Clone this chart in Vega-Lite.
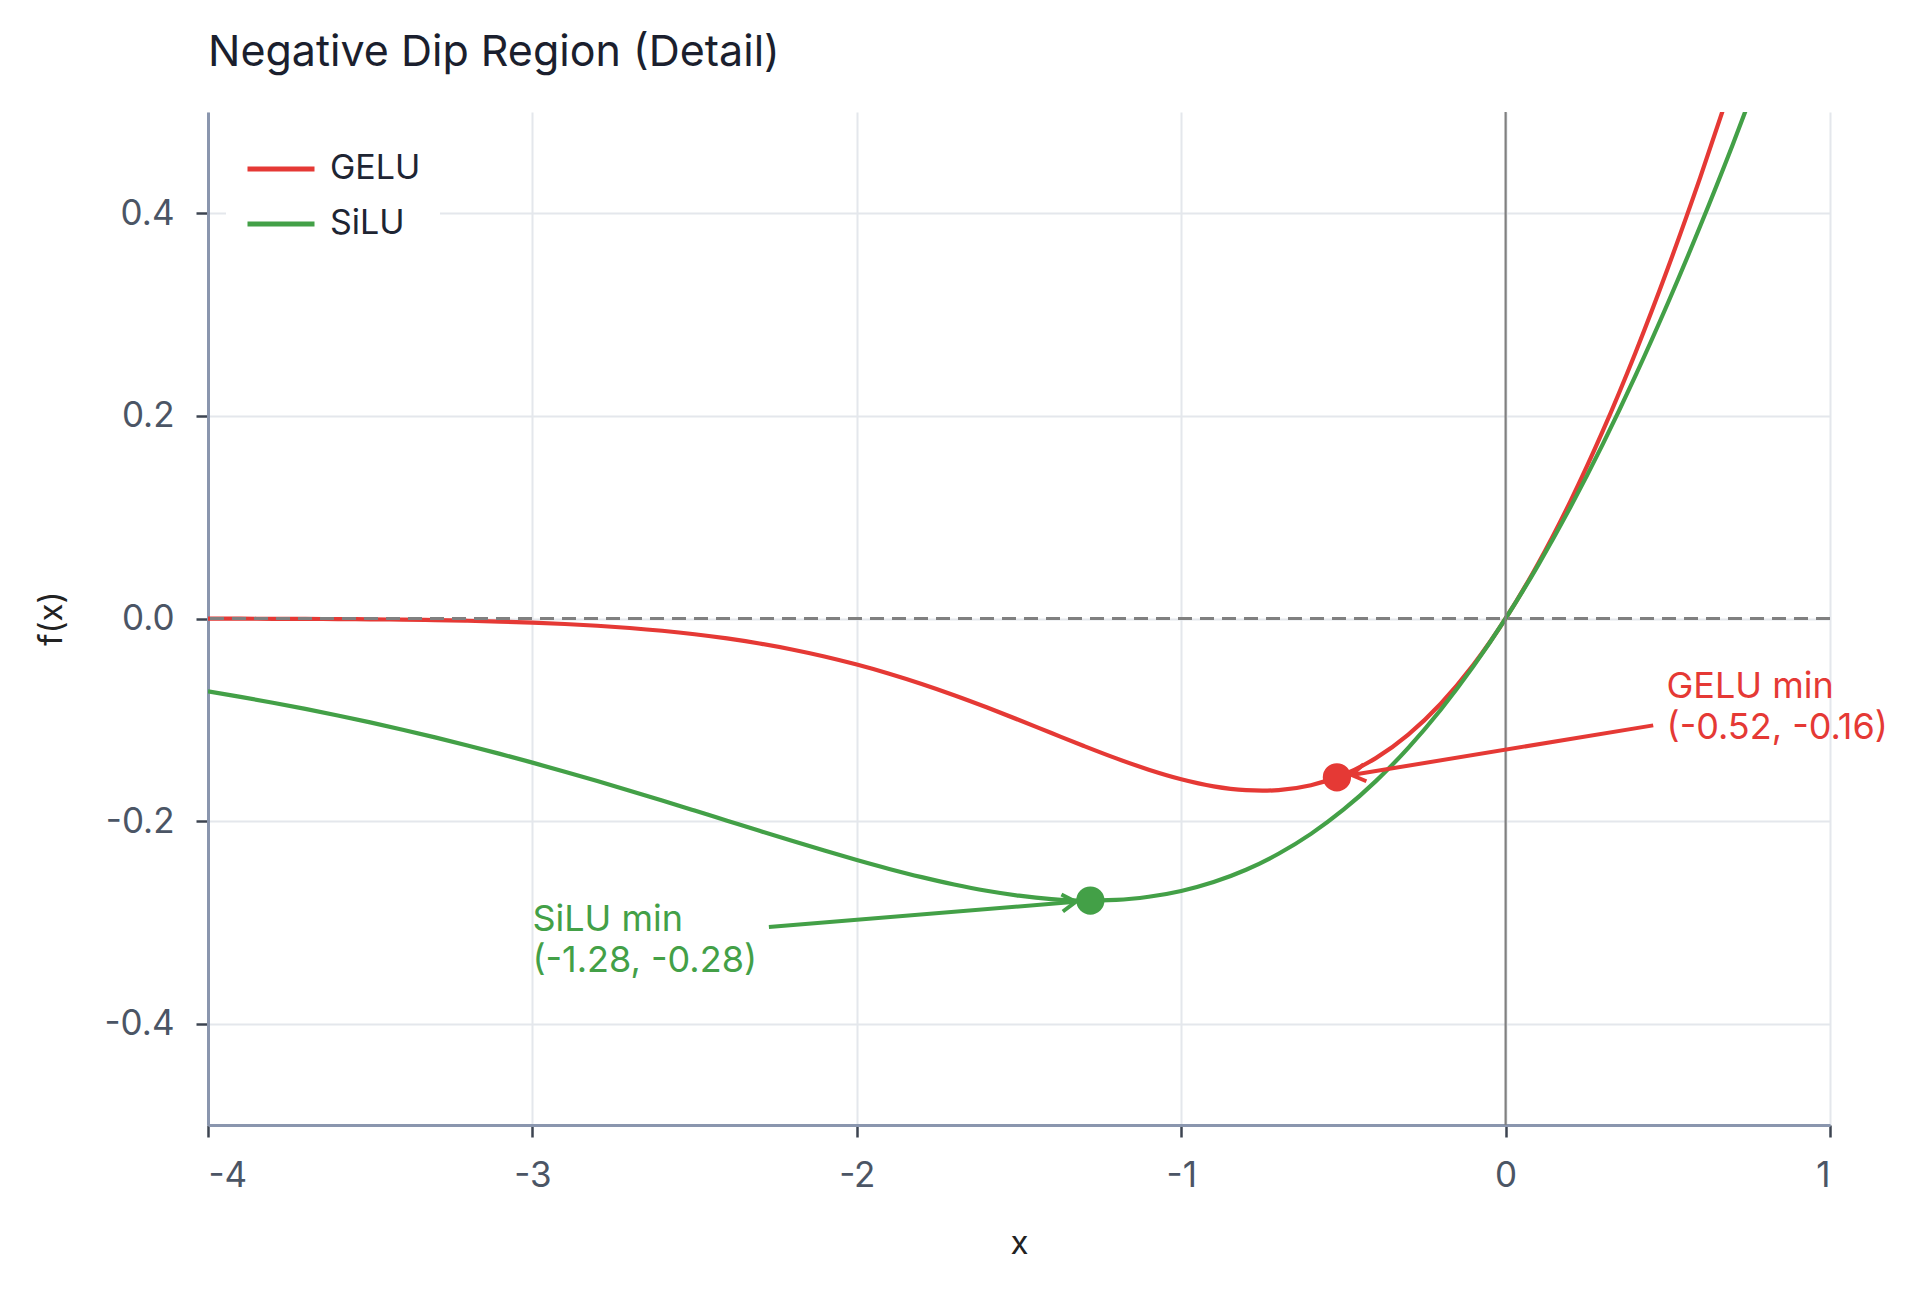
{
  "$schema": "https://vega.github.io/schema/vega-lite/v6.json",
  "width": 1622,
  "height": 1013,
  "autosize": {"type": "none"},
  "padding": {"left": 208, "top": 112, "right": 90, "bottom": 168},
  "background": "white",
  "title": {"text": "Negative Dip Region (Detail)", "anchor": "start", "frame": "group", "fontSize": 43, "font": "Inter", "fontWeight": "normal", "color": "#1b1f2e", "baseline": "alphabetic", "offset": 2},
  "datasets": {
    "curves": [
      {"x": -4.0, "y": -0.000127, "func": "GELU"}, {"x": -3.9, "y": -0.000188, "func": "GELU"}, {"x": -3.8, "y": -0.000275, "func": "GELU"}, {"x": -3.7, "y": -0.000399, "func": "GELU"}, {"x": -3.6, "y": -0.000573, "func": "GELU"}, {"x": -3.5, "y": -0.000814, "func": "GELU"}, {"x": -3.4, "y": -0.001145, "func": "GELU"}, {"x": -3.3, "y": -0.001595, "func": "GELU"}, {"x": -3.2, "y": -0.002199, "func": "GELU"}, {"x": -3.1, "y": -0.003, "func": "GELU"}, {"x": -3.0, "y": -0.00405, "func": "GELU"}, {"x": -2.9, "y": -0.005411, "func": "GELU"}, {"x": -2.8, "y": -0.007154, "func": "GELU"}, {"x": -2.7, "y": -0.009361, "func": "GELU"}, {"x": -2.6, "y": -0.012119, "func": "GELU"}, {"x": -2.5, "y": -0.015524, "func": "GELU"}, {"x": -2.4, "y": -0.019674, "func": "GELU"}, {"x": -2.3, "y": -0.024665, "func": "GELU"}, {"x": -2.2, "y": -0.030587, "func": "GELU"}, {"x": -2.1, "y": -0.037515, "func": "GELU"}, {"x": -2.0, "y": -0.0455, "func": "GELU"}, {"x": -1.9, "y": -0.054562, "func": "GELU"}, {"x": -1.8, "y": -0.064675, "func": "GELU"}, {"x": -1.7, "y": -0.075761, "func": "GELU"}, {"x": -1.6, "y": -0.087679, "func": "GELU"}, {"x": -1.5, "y": -0.100211, "func": "GELU"}, {"x": -1.4, "y": -0.113059, "func": "GELU"}, {"x": -1.3, "y": -0.125841, "func": "GELU"}, {"x": -1.2, "y": -0.138084, "func": "GELU"}, {"x": -1.1, "y": -0.149233, "func": "GELU"}, {"x": -1.0, "y": -0.158655, "func": "GELU"}, {"x": -0.9, "y": -0.165654, "func": "GELU"}, {"x": -0.8, "y": -0.169484, "func": "GELU"}, {"x": -0.75, "y": -0.169971, "func": "GELU"}, {"x": -0.7, "y": -0.169375, "func": "GELU"}, {"x": -0.6, "y": -0.164552, "func": "GELU"}, {"x": -0.5, "y": -0.154269, "func": "GELU"}, {"x": -0.4, "y": -0.137831, "func": "GELU"}, {"x": -0.3, "y": -0.114627, "func": "GELU"}, {"x": -0.2, "y": -0.084148, "func": "GELU"}, {"x": -0.1, "y": -0.046017, "func": "GELU"}, {"x": 0.0, "y": 0.0, "func": "GELU"}, {"x": 0.1, "y": 0.053983, "func": "GELU"}, {"x": 0.2, "y": 0.115852, "func": "GELU"}, {"x": 0.3, "y": 0.185373, "func": "GELU"}, {"x": 0.4, "y": 0.262169, "func": "GELU"}, {"x": 0.5, "y": 0.345731, "func": "GELU"}, {"x": 0.6, "y": 0.435448, "func": "GELU"}, {"x": 0.7, "y": 0.530625, "func": "GELU"}, {"x": 0.8, "y": 0.630516, "func": "GELU"}, {"x": 0.9, "y": 0.734346, "func": "GELU"}, {"x": 1.0, "y": 0.841345, "func": "GELU"},
      {"x": -4.0, "y": -0.071945, "func": "SiLU"}, {"x": -3.9, "y": -0.077378, "func": "SiLU"}, {"x": -3.8, "y": -0.083149, "func": "SiLU"}, {"x": -3.7, "y": -0.089271, "func": "SiLU"}, {"x": -3.6, "y": -0.09575, "func": "SiLU"}, {"x": -3.5, "y": -0.102594, "func": "SiLU"}, {"x": -3.4, "y": -0.109805, "func": "SiLU"}, {"x": -3.3, "y": -0.117383, "func": "SiLU"}, {"x": -3.2, "y": -0.125328, "func": "SiLU"}, {"x": -3.1, "y": -0.133632, "func": "SiLU"}, {"x": -3.0, "y": -0.142278, "func": "SiLU"}, {"x": -2.9, "y": -0.151246, "func": "SiLU"}, {"x": -2.8, "y": -0.160504, "func": "SiLU"}, {"x": -2.7, "y": -0.170025, "func": "SiLU"}, {"x": -2.6, "y": -0.179757, "func": "SiLU"}, {"x": -2.5, "y": -0.189649, "func": "SiLU"}, {"x": -2.4, "y": -0.199617, "func": "SiLU"}, {"x": -2.3, "y": -0.209586, "func": "SiLU"}, {"x": -2.2, "y": -0.219451, "func": "SiLU"}, {"x": -2.1, "y": -0.229107, "func": "SiLU"}, {"x": -2.0, "y": -0.238406, "func": "SiLU"}, {"x": -1.9, "y": -0.247203, "func": "SiLU"}, {"x": -1.8, "y": -0.25533, "func": "SiLU"}, {"x": -1.7, "y": -0.262585, "func": "SiLU"}, {"x": -1.6, "y": -0.268774, "func": "SiLU"}, {"x": -1.5, "y": -0.273635, "func": "SiLU"}, {"x": -1.4, "y": -0.276943, "func": "SiLU"}, {"x": -1.3, "y": -0.278412, "func": "SiLU"}, {"x": -1.2, "y": -0.277771, "func": "SiLU"}, {"x": -1.1, "y": -0.274713, "func": "SiLU"}, {"x": -1.0, "y": -0.268941, "func": "SiLU"}, {"x": -0.9, "y": -0.260146, "func": "SiLU"}, {"x": -0.8, "y": -0.24802, "func": "SiLU"}, {"x": -0.7, "y": -0.232265, "func": "SiLU"}, {"x": -0.6, "y": -0.212608, "func": "SiLU"}, {"x": -0.5, "y": -0.18877, "func": "SiLU"}, {"x": -0.4, "y": -0.160527, "func": "SiLU"}, {"x": -0.3, "y": -0.127665, "func": "SiLU"}, {"x": -0.2, "y": -0.090033, "func": "SiLU"}, {"x": -0.1, "y": -0.047502, "func": "SiLU"}, {"x": 0.0, "y": 0.0, "func": "SiLU"}, {"x": 0.1, "y": 0.052498, "func": "SiLU"}, {"x": 0.2, "y": 0.109967, "func": "SiLU"}, {"x": 0.3, "y": 0.172335, "func": "SiLU"}, {"x": 0.4, "y": 0.239473, "func": "SiLU"}, {"x": 0.5, "y": 0.31123, "func": "SiLU"}, {"x": 0.6, "y": 0.387392, "func": "SiLU"}, {"x": 0.7, "y": 0.467735, "func": "SiLU"}, {"x": 0.8, "y": 0.55198, "func": "SiLU"}, {"x": 0.9, "y": 0.639854, "func": "SiLU"}, {"x": 1.0, "y": 0.731059, "func": "SiLU"}
    ],
    "zero_h": [{"y": 0}],
    "zero_v": [{"x": 0}],
    "minima": [
      {"func": "GELU", "x": -0.52, "y": -0.1568},
      {"func": "SiLU", "x": -1.28, "y": -0.2785}
    ],
    "arrows": [
      {"func": "GELU", "x": 0.455, "y": -0.1055, "x2": -0.475, "y2": -0.1545, "angle": 170.7},
      {"func": "SiLU", "x": -2.271, "y": -0.3046, "x2": -1.325, "y2": -0.2797, "angle": 355.2}
    ],
    "notes": [
      {"func": "GELU", "x": 0.496, "y": -0.0786, "label": "GELU min\n(-0.52, -0.16)"},
      {"func": "SiLU", "x": -3.0, "y": -0.3085, "label": "SiLU min\n(-1.28, -0.28)"}
    ]
  },
  "layer": [
    {
      "data": {"name": "curves"},
      "mark": {"type": "line", "strokeWidth": 4.2, "interpolate": "monotone", "clip": true},
      "encoding": {
        "x": {"field": "x", "type": "quantitative", "scale": {"domain": [-4, 1], "nice": false, "zero": false},
              "axis": {"values": [-4, -3, -2, -1, 0, 1], "format": "d", "labelExpr": "replace(datum.label, '\u2212', '-')", "title": "x", "titleX": 811, "titleY": 128, "titleBaseline": "alphabetic", "titleAlign": "center", "titleAnchor": null}},
        "y": {"field": "y", "type": "quantitative", "scale": {"domain": [-0.5, 0.5], "nice": false, "zero": false},
              "axis": {"values": [-0.4, -0.2, 0, 0.2, 0.4], "format": ".1f", "labelExpr": "replace(datum.label, '\u2212', '-')", "title": "f(x)", "titleX": -157, "titleY": 506, "titleAngle": -90, "titleBaseline": "middle", "titleAlign": "center", "titleAnchor": null}},
        "color": {"field": "func", "type": "nominal", "sort": ["GELU", "SiLU"],
                  "scale": {"domain": ["GELU", "SiLU"], "range": ["#e53935", "#43a047"]},
                  "legend": {"title": null, "orient": "none", "legendX": 18, "legendY": 2, "fillColor": "white", "padding": 19, "symbolType": "stroke", "symbolSize": 4489, "symbolStrokeWidth": 5, "labelFontSize": 34, "labelFont": "Inter", "labelColor": "#1e2533", "labelOffset": 13, "rowPadding": 2}}
      }
    },
    {
      "data": {"name": "zero_h"},
      "mark": {"type": "rule", "color": "#808080", "strokeWidth": 3, "strokeDash": [14, 8]},
      "encoding": {"y": {"field": "y", "type": "quantitative"}}
    },
    {
      "data": {"name": "zero_v"},
      "mark": {"type": "rule", "color": "#808080", "strokeWidth": 2.2},
      "encoding": {"x": {"field": "x", "type": "quantitative"}}
    },
    {
      "data": {"name": "arrows"},
      "mark": {"type": "rule", "strokeWidth": 4},
      "encoding": {
        "x": {"field": "x", "type": "quantitative"},
        "y": {"field": "y", "type": "quantitative"},
        "x2": {"field": "x2"},
        "y2": {"field": "y2"},
        "stroke": {"field": "func", "type": "nominal", "scale": {"domain": ["GELU", "SiLU"], "range": ["#e53935", "#43a047"]}, "legend": null}
      }
    },
    {
      "data": {"name": "arrows"},
      "mark": {"type": "point", "shape": "M-1.2,-0.75L0,0L-1.2,0.75", "filled": false, "strokeWidth": 4, "size": 520, "opacity": 1},
      "encoding": {
        "x": {"field": "x2", "type": "quantitative"},
        "y": {"field": "y2", "type": "quantitative"},
        "angle": {"field": "angle", "type": "quantitative", "scale": null},
        "stroke": {"field": "func", "type": "nominal", "scale": {"domain": ["GELU", "SiLU"], "range": ["#e53935", "#43a047"]}, "legend": null}
      }
    },
    {
      "data": {"name": "minima"},
      "mark": {"type": "point", "shape": "circle", "filled": true, "size": 800, "opacity": 1},
      "encoding": {
        "x": {"field": "x", "type": "quantitative"},
        "y": {"field": "y", "type": "quantitative"},
        "fill": {"field": "func", "type": "nominal", "scale": {"domain": ["GELU", "SiLU"], "range": ["#e53935", "#43a047"]}, "legend": null}
      }
    },
    {
      "data": {"name": "notes"},
      "mark": {"type": "text", "align": "left", "baseline": "alphabetic", "fontSize": 36, "font": "Inter", "lineBreak": "\n", "lineHeight": 41},
      "encoding": {
        "x": {"field": "x", "type": "quantitative"},
        "y": {"field": "y", "type": "quantitative"},
        "text": {"field": "label"},
        "fill": {"field": "func", "type": "nominal", "scale": {"domain": ["GELU", "SiLU"], "range": ["#e53935", "#43a047"]}, "legend": null}
      }
    }
  ],
  "config": {
    "font": "Inter",
    "view": {"stroke": null},
    "axis": {
      "domainColor": "#8a96ae",
      "domainWidth": 3,
      "tickColor": "#3d4451",
      "tickSize": 12,
      "tickWidth": 2.5,
      "gridColor": "#e4e7ec",
      "gridWidth": 2,
      "labelFont": "Inter",
      "labelFontSize": 35,
      "labelColor": "#4b5565",
      "titleFont": "Inter",
      "titleFontSize": 33,
      "titleFontWeight": "normal",
      "titleColor": "#222222"
    },
    "axisX": {"labelPadding": 21},
    "axisY": {"labelPadding": 22}
  }
}
